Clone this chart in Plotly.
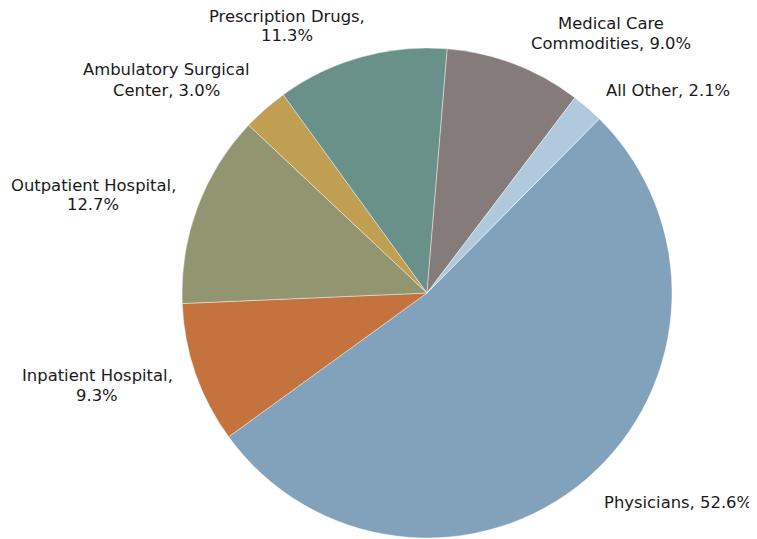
import plotly.graph_objects as go

labels = ["Physicians", "Inpatient Hospital", "Outpatient Hospital", "Ambulatory Surgical Center",
          "Prescription Drugs", "Medical Care Commodities", "All Other"]
values = [52.6, 9.3, 12.7, 3.0, 11.3, 9.0, 2.1]
colors = ["#82A2BB", "#C4733F", "#919670", "#C19F52", "#6A9189", "#857B7A", "#B1C9DC"]
label_texts = ["Physicians, 52.6%", "Inpatient Hospital,<br>9.3%", "Outpatient Hospital,<br>12.7%",
               "Ambulatory Surgical<br>Center, 3.0%", "Prescription Drugs,<br>11.3%",
               "Medical Care<br>Commodities, 9.0%", "All Other, 2.1%"]
# screen-pixel centre of the first line of each label
label_px = [(678, 502), (97, 375), (93, 185), (166, 70), (287, 16), (611, 23), (668, 90)]

OFF = 8          # default page body margin
W, H = 757 - OFF, 539 - OFF
LINE = 20
mt, mb = 40, 1
cx, r = 427 - OFF, 245

fig = go.Figure(go.Pie(
    labels=labels, values=values, sort=False, direction="clockwise", rotation=44.7,
    marker=dict(colors=colors, line=dict(color="rgba(255,255,255,0.6)", width=0.7)),
    textinfo="none", hoverinfo="label+percent", showlegend=False,
    domain=dict(x=[(cx - r) / W, (cx + r) / W], y=[0, 1]),
))

ph = H - mt - mb
for t, (px, py) in zip(label_texts, label_px):
    for i, line in enumerate(t.split("<br>")):
        x = px - OFF
        y = py + i * LINE - OFF
        fig.add_annotation(text=line, x=x / W, y=(H - mb - y) / ph, xref="paper", yref="paper",
                           showarrow=False, xanchor="center", yanchor="middle",
                           font=dict(family="DejaVu Sans", size=16.4, color="#1a1a1a"))

fig.update_layout(width=W, height=H, margin=dict(l=0, r=0, t=mt, b=mb),
                  paper_bgcolor="white", plot_bgcolor="white",
                  font=dict(family="DejaVu Sans", size=16.4, color="#1a1a1a"))
fig.write_html("out.html")
